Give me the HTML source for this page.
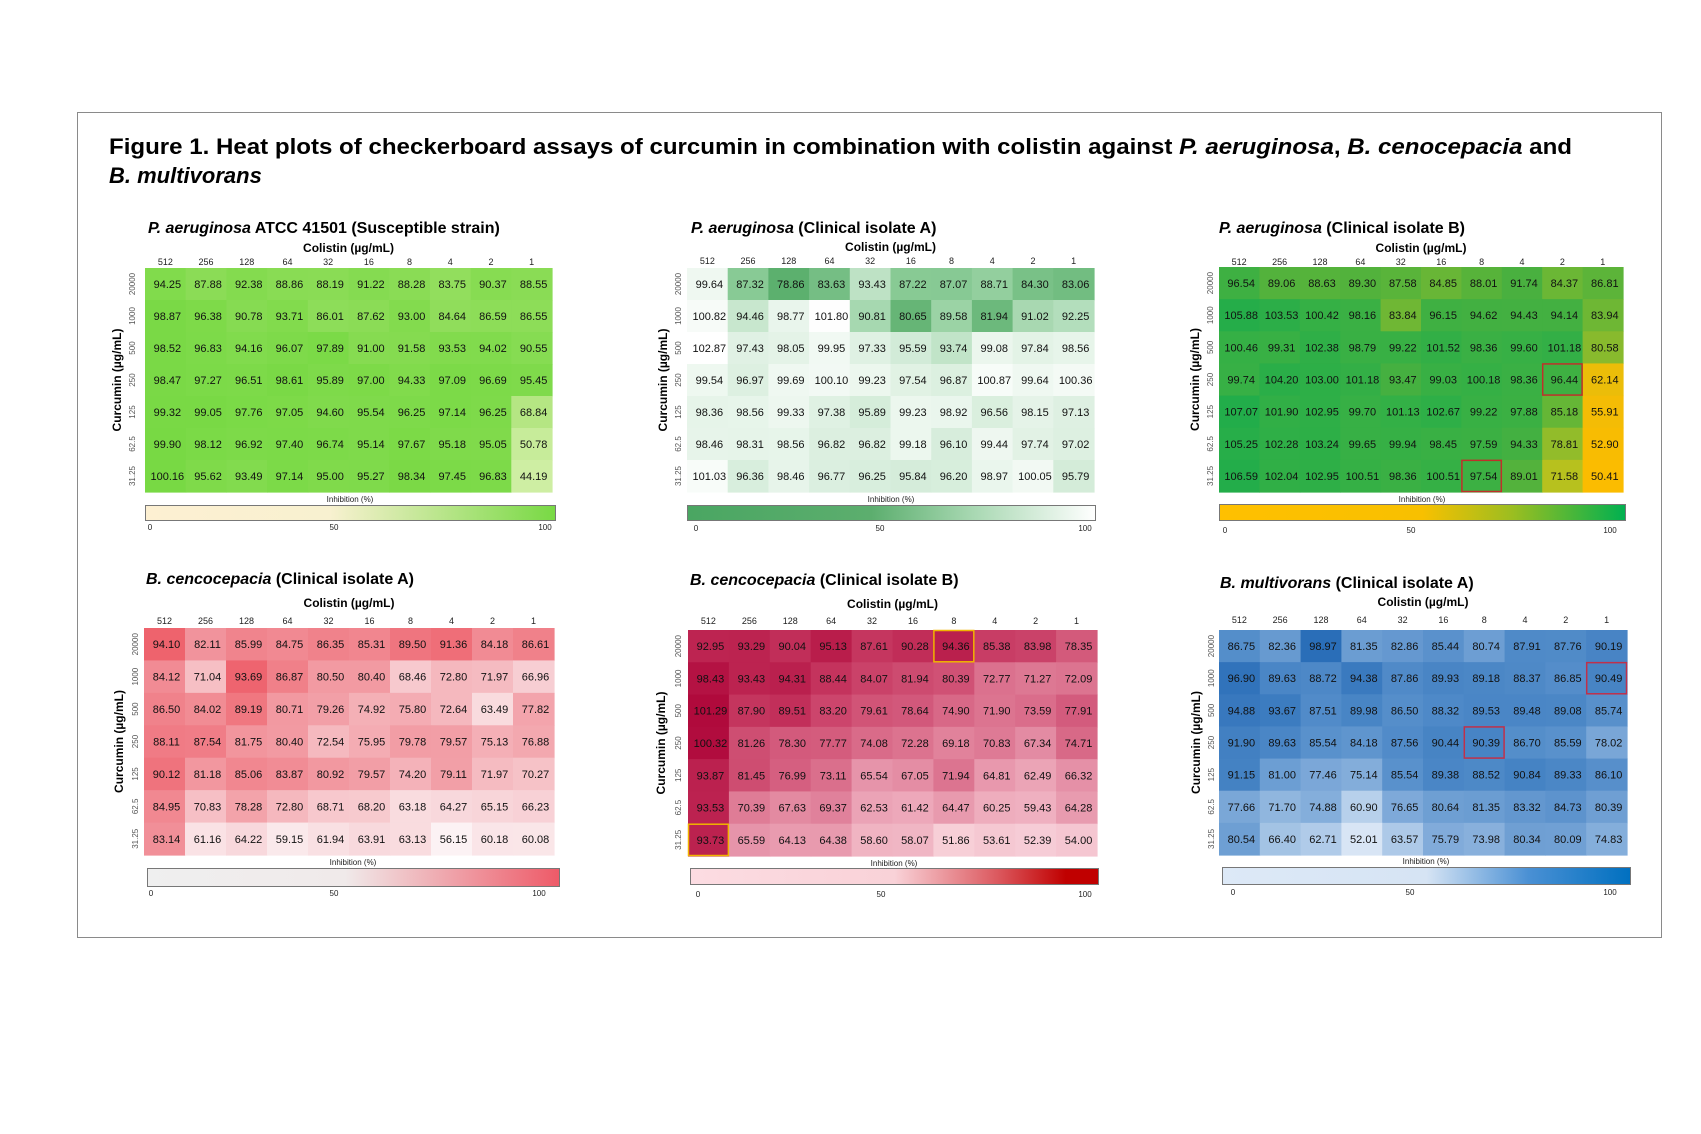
<!DOCTYPE html>
<html><head><meta charset="utf-8">
<style>
html,body{margin:0;padding:0;background:#fff;}
svg{display:block;font-family:"Liberation Sans",Arial,sans-serif;}
</style></head>
<body>
<svg id="fig" width="1701" height="1134" viewBox="0 0 1701 1134" xmlns="http://www.w3.org/2000/svg">
<rect x="77.5" y="112.5" width="1584" height="825" fill="#fff" stroke="#8a8a8a" stroke-width="1"/>
<text x="109" y="154" font-size="22" font-weight="bold" textLength="1463" lengthAdjust="spacingAndGlyphs">Figure 1. Heat plots of checkerboard assays of curcumin in combination with colistin against <tspan font-style="italic">P. aeruginosa</tspan>, <tspan font-style="italic">B. cenocepacia</tspan> and</text>
<text x="109" y="183" font-size="22" font-weight="bold" font-style="italic">B. multivorans</text>
</svg>
<script>
const colLabels = ["512","256","128","64","32","16","8","4","2","1"];
const rowLabels = ["20000","1000","500","250","125","62.5","31.25"];

const p1Values = [
[94.25,87.88,92.38,88.86,88.19,91.22,88.28,83.75,90.37,88.55],
[98.87,96.38,90.78,93.71,86.01,87.62,93.00,84.64,86.59,86.55],
[98.52,96.83,94.16,96.07,97.89,91.00,91.58,93.53,94.02,90.55],
[98.47,97.27,96.51,98.61,95.89,97.00,94.33,97.09,96.69,95.45],
[99.32,99.05,97.76,97.05,94.60,95.54,96.25,97.14,96.25,68.84],
[99.90,98.12,96.92,97.40,96.74,95.14,97.67,95.18,95.05,50.78],
[100.16,95.62,93.49,97.14,95.00,95.27,98.34,97.45,96.83,44.19]];
const p2Values = [
[99.64,87.32,78.86,83.63,93.43,87.22,87.07,88.71,84.30,83.06],
[100.82,94.46,98.77,101.80,90.81,80.65,89.58,81.94,91.02,92.25],
[102.87,97.43,98.05,99.95,97.33,95.59,93.74,99.08,97.84,98.56],
[99.54,96.97,99.69,100.10,99.23,97.54,96.87,100.87,99.64,100.36],
[98.36,98.56,99.33,97.38,95.89,99.23,98.92,96.56,98.15,97.13],
[98.46,98.31,98.56,96.82,96.82,99.18,96.10,99.44,97.74,97.02],
[101.03,96.36,98.46,96.77,96.25,95.84,96.20,98.97,100.05,95.79]];
const p3Values = [
[96.54,89.06,88.63,89.30,87.58,84.85,88.01,91.74,84.37,86.81],
[105.88,103.53,100.42,98.16,83.84,96.15,94.62,94.43,94.14,83.94],
[100.46,99.31,102.38,98.79,99.22,101.52,98.36,99.60,101.18,80.58],
[99.74,104.20,103.00,101.18,93.47,99.03,100.18,98.36,96.44,62.14],
[107.07,101.90,102.95,99.70,101.13,102.67,99.22,97.88,85.18,55.91],
[105.25,102.28,103.24,99.65,99.94,98.45,97.59,94.33,78.81,52.90],
[106.59,102.04,102.95,100.51,98.36,100.51,97.54,89.01,71.58,50.41]];
const p4Values = [
[94.10,82.11,85.99,84.75,86.35,85.31,89.50,91.36,84.18,86.61],
[84.12,71.04,93.69,86.87,80.50,80.40,68.46,72.80,71.97,66.96],
[86.50,84.02,89.19,80.71,79.26,74.92,75.80,72.64,63.49,77.82],
[88.11,87.54,81.75,80.40,72.54,75.95,79.78,79.57,75.13,76.88],
[90.12,81.18,85.06,83.87,80.92,79.57,74.20,79.11,71.97,70.27],
[84.95,70.83,78.28,72.80,68.71,68.20,63.18,64.27,65.15,66.23],
[83.14,61.16,64.22,59.15,61.94,63.91,63.13,56.15,60.18,60.08]];
const p5Values = [
[92.95,93.29,90.04,95.13,87.61,90.28,94.36,85.38,83.98,78.35],
[98.43,93.43,94.31,88.44,84.07,81.94,80.39,72.77,71.27,72.09],
[101.29,87.90,89.51,83.20,79.61,78.64,74.90,71.90,73.59,77.91],
[100.32,81.26,78.30,77.77,74.08,72.28,69.18,70.83,67.34,74.71],
[93.87,81.45,76.99,73.11,65.54,67.05,71.94,64.81,62.49,66.32],
[93.53,70.39,67.63,69.37,62.53,61.42,64.47,60.25,59.43,64.28],
[93.73,65.59,64.13,64.38,58.60,58.07,51.86,53.61,52.39,54.00]];
const p6Values = [
[86.75,82.36,98.97,81.35,82.86,85.44,80.74,87.91,87.76,90.19],
[96.90,89.63,88.72,94.38,87.86,89.93,89.18,88.37,86.85,90.49],
[94.88,93.67,87.51,89.98,86.50,88.32,89.53,89.48,89.08,85.74],
[91.90,89.63,85.54,84.18,87.56,90.44,90.39,86.70,85.59,78.02],
[91.15,81.00,77.46,75.14,85.54,89.38,88.52,90.84,89.33,86.10],
[77.66,71.70,74.88,60.90,76.65,80.64,81.35,83.32,84.73,80.39],
[80.54,66.40,62.71,52.01,63.57,75.79,73.98,80.34,80.09,74.83]];
const cbTicks = ["0","50","100"];
const p3Highlights = [[3,8],[6,6]];
const p5Highlights = [[0,6],[6,0]];
const p6Highlights = [[1,9],[3,6]];

const NS = "http://www.w3.org/2000/svg";
const svg = document.getElementById("fig");
function mk(tag, attrs, parent){ const e=document.createElementNS(NS,tag); for(const k in attrs) e.setAttribute(k,attrs[k]); (parent||svg).appendChild(e); return e; }
function hex(c){ return [parseInt(c.slice(1,3),16),parseInt(c.slice(3,5),16),parseInt(c.slice(5,7),16)]; }
function colorScale(stops){
  return function(v){
    if(v<=stops[0][0]) return stops[0][1];
    for(let i=1;i<stops.length;i++){
      if(v<=stops[i][0]){
        const t=(v-stops[i-1][0])/(stops[i][0]-stops[i-1][0]);
        const a=hex(stops[i-1][1]), b=hex(stops[i][1]);
        return "rgb("+a.map((x,j)=>Math.round(x+(b[j]-x)*t)).join(",")+")";
      }
    }
    return stops[stops.length-1][1];
  };
}

const panels = [
 {id:"p1", vals:p1Values, spec:"P. aeruginosa", rest:" ATCC 41501 (Susceptible strain)", tx:148, ty:233,
  gx:145, gx1:552, gy:268, gy1:492, ylx:117, ytx:132, coly:252, ticky:265, inhy:502,
  cb:[145,505,410,15], cby:530, cbx:[150,334,545],
  cells:[[40,"#d2efa8"],[70,"#b4e682"],[85,"#8fdd5a"],[100,"#78d944"]],
  grad:[[0,"#fdf0d2"],[0.45,"#f8f1d0"],[1,"#78d944"]], hl:[], hlc:"#c00"},
 {id:"p2", vals:p2Values, spec:"P. aeruginosa", rest:" (Clinical isolate A)", tx:691, ty:233,
  gx:687, gx1:1094, gy:268, gy1:492, ylx:663, ytx:678, coly:251, ticky:264, inhy:502,
  cb:[687,505,408,15], cby:531, cbx:[696,880,1085],
  cells:[[78,"#58ad6a"],[88,"#8ccc98"],[96,"#d6eddb"],[102,"#ffffff"]],
  grad:[[0,"#4aa662"],[0.45,"#5cae6e"],[0.7,"#a8d8b2"],[1,"#ffffff"]], hl:[], hlc:"#c00"},
 {id:"p3", vals:p3Values, spec:"P. aeruginosa", rest:" (Clinical isolate B)", tx:1219, ty:233,
  gx:1219, gx1:1623, gy:267, gy1:492, ylx:1195, ytx:1210, coly:252, ticky:265, inhy:502,
  cb:[1219,504,406,16], cby:533, cbx:[1225,1411,1610],
  cells:[[50,"#fcbc00"],[63,"#eabd0a"],[72,"#b5c11f"],[80,"#8cbb2c"],[86,"#5fb538"],[92,"#48b03f"],[100,"#36b045"],[107,"#22ad4a"]],
  grad:[[0,"#ffc000"],[0.5,"#f8c000"],[0.72,"#9cbe20"],[1,"#00b050"]], hl:p3Highlights, hlc:"#c0302a"},
 {id:"p4", vals:p4Values, spec:"B. cencocepacia", rest:"  (Clinical isolate A)", tx:146, ty:584,
  gx:144, gx1:554, gy:628, gy1:855, ylx:119, ytx:135, coly:607, ticky:624, inhy:865,
  cb:[147,868,412,18], cby:896, cbx:[151,334,539],
  cells:[[55,"#fcf6f7"],[65,"#f8d6da"],[80,"#f29ca4"],[95,"#ee5f6a"]],
  grad:[[0,"#efefef"],[0.48,"#f0eaea"],[1,"#ee5a68"]], hl:[], hlc:"#c00"},
 {id:"p5", vals:p5Values, spec:"B. cencocepacia", rest:"  (Clinical isolate B)", tx:690, ty:585,
  gx:688, gx1:1097, gy:630, gy1:856, ylx:661, ytx:678, coly:608, ticky:624, inhy:866,
  cb:[690,868,408,16], cby:897, cbx:[698,881,1085],
  cells:[[50,"#f9d6dd"],[62,"#eca6b8"],[72,"#dc7490"],[85,"#c93e66"],[101,"#b00a3c"]],
  grad:[[0,"#fcdce2"],[0.5,"#f9d2d8"],[0.75,"#dc5a60"],[0.92,"#c00000"],[1,"#c00000"]], hl:p5Highlights, hlc:"#f0b400"},
 {id:"p6", vals:p6Values, spec:"B. multivorans", rest:" (Clinical isolate A)", tx:1220, ty:588,
  gx:1219, gx1:1627, gy:630, gy1:855, ylx:1196, ytx:1211, coly:606, ticky:623, inhy:864,
  cb:[1222,867,408,17], cby:895, cbx:[1233,1410,1610],
  cells:[[50,"#dfeaf7"],[65,"#a8c6e6"],[78,"#79a6d7"],[88,"#4f8ac8"],[99,"#2a6eb8"]],
  grad:[[0,"#dde9f7"],[0.5,"#d6e4f4"],[0.75,"#4a90d4"],[1,"#0070c0"]], hl:p6Highlights, hlc:"#c0304a"}
];

panels.forEach(function(p){
  const g = mk("g",{});
  
  
  const nR=rowLabels.length, nC=colLabels.length;
  const cw=(p.gx1-p.gx)/nC, ch=(p.gy1-p.gy)/nR;
  const xPos = c => p.gx + c*cw;
  const yPos = r => p.gy + r*ch;
  const col = colorScale(p.cells);
  const t = mk("text",{x:p.tx,y:p.ty,"font-size":"16","font-weight":"bold"},g);
  
  
  const ts = mk("tspan",{"font-style":"italic"},t); ts.textContent=p.spec;
  const tr = mk("tspan",{},t); tr.textContent=p.rest;
  const xt = mk("text",{x:(p.gx+p.gx1)/2,y:p.coly,"font-size":"12","font-weight":"bold","text-anchor":"middle"},g);
  xt.textContent="Colistin (\u00b5g/mL)";
  
  
  colLabels.forEach(function(l,c){
    const e = mk("text",{x:xPos(c)+cw/2,y:p.ticky,"font-size":"9","text-anchor":"middle",fill:"#222"},g);
    e.textContent=l;
    
    
  });
  const ycy=(p.gy+p.gy1)/2;
  const yt = mk("text",{x:p.ylx,y:ycy,"font-size":"12","font-weight":"bold","text-anchor":"middle",transform:"rotate(-90 "+p.ylx+" "+ycy+")",dy:"4"},g);
  yt.textContent="Curcumin (\u00b5g/mL)";
  
  
  rowLabels.forEach(function(l,r){
    const cy=yPos(r)+ch/2;
    const e = mk("text",{x:p.ytx,y:cy,"font-size":"8","text-anchor":"middle",fill:"#555",dy:"3",transform:"rotate(-90 "+p.ytx+" "+cy+")"},g);
    e.textContent=l;
    
    
  });
  p.vals.forEach(function(row,r){
    row.forEach(function(v,c){
      const rc = mk("rect",{x:xPos(c),y:yPos(r),width:cw+0.6,height:ch+0.6,fill:col(v)},g);
      
      
    });
  });
  p.vals.forEach(function(row,r){
    row.forEach(function(v,c){
      const tx = mk("text",{x:xPos(c)+cw/2+2,y:yPos(r)+ch/2+4,"font-size":"11","text-anchor":"middle",fill:"#111"},g);
      tx.textContent=v.toFixed(2);
      
      
    });
  });
  p.hl.forEach(function(h){
    const b = mk("rect",{x:xPos(h[1])+0.5,y:yPos(h[0])+0.5,width:cw-1,height:ch-1,fill:"none",stroke:p.hlc,"stroke-width":"1.5"},g);
    
    
  });
  const inh = mk("text",{x:(p.cb[0]+p.cb[0]+p.cb[2])/2,y:p.inhy,"font-size":"8","text-anchor":"middle",fill:"#222"},g);
  inh.textContent="Inhibition (%)";
  
  
  const defs = mk("defs",{},g);
  const lg = mk("linearGradient",{id:p.id+"grad",x1:"0",x2:"1",y1:"0",y2:"0"},defs);
  p.grad.forEach(function(s){ mk("stop",{offset:s[0],"stop-color":s[1]},lg); });
  const cbr = mk("rect",{x:p.cb[0]+0.5,y:p.cb[1]+0.5,width:p.cb[2],height:p.cb[3],fill:"url(#"+p.id+"grad)",stroke:"#777","stroke-width":"1"},g);
  
  
  cbTicks.forEach(function(l,i){
    const e = mk("text",{x:p.cbx[i],y:p.cby,"font-size":"8","text-anchor":"middle",fill:"#222"},g);
    e.textContent=l;
    
    
  });
});
</script>
</body></html>
